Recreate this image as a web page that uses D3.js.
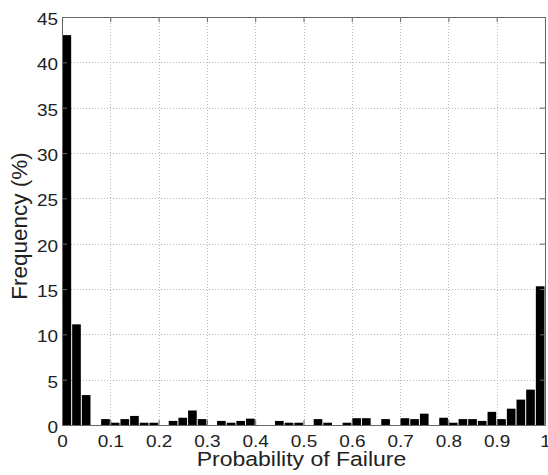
<!DOCTYPE html>
<html>
<head>
<meta charset="utf-8">
<script src="https://cdn.jsdelivr.net/npm/d3@7"></script>
<style>
  html, body { margin: 0; padding: 0; background: #fff; }
  svg text { font-family: Arial, "Liberation Sans", Helvetica, sans-serif; fill: #222; }
</style>
</head>
<body>
<svg id="chart" width="548" height="475"></svg>
<script>
// ---- data ----
const binStarts = d3.range(0, 50).map(i => i / 50);   // bin left edges (width 0.02)
const binWidth = 0.02;
const frequency = [43.0, 11.1, 3.3, 0, 0.65, 0.25, 0.65, 1.0, 0.25, 0.25,
                   0, 0.45, 0.8, 1.6, 0.65, 0, 0.45, 0.25, 0.45, 0.7,
                   0, 0, 0.45, 0.25, 0.25, 0, 0.65, 0.25, 0, 0.25,
                   0.75, 0.75, 0, 0.65, 0, 0.75, 0.65, 1.25, 0, 0.8,
                   0.25, 0.65, 0.65, 0.45, 1.45, 0.65, 1.8, 2.8, 3.9, 15.3];
const xTicks = [0, 0.1, 0.2, 0.3, 0.4, 0.5, 0.6, 0.7, 0.8, 0.9, 1];
const xTickLabels = ["0", "0.1", "0.2", "0.3", "0.4", "0.5", "0.6", "0.7", "0.8", "0.9", "1"];
const yTicks = [0, 5, 10, 15, 20, 25, 30, 35, 40, 45];
const xLabel = "Probability of Failure";
const yLabel = "Frequency (%)";

// ---- layout ----
const L = 62, R = 545, T = 17, B = 425;
const svg = d3.select("#chart");
const x = d3.scaleLinear().domain([0, 1]).range([L, R]);
const y = d3.scaleLinear().domain([0, 45]).range([B, T]);

// grid
const grid = svg.append("g").attr("stroke", "#b8b8b8").attr("stroke-width", 1).attr("stroke-dasharray", "1,2");
grid.selectAll("line.gx").data(xTicks.slice(1, -1)).enter().append("line")
  .attr("x1", d => Math.round(x(d)) + 0.5).attr("x2", d => Math.round(x(d)) + 0.5)
  .attr("y1", T).attr("y2", B);
grid.selectAll("line.gy").data(yTicks.slice(1, -1)).enter().append("line")
  .attr("y1", d => Math.round(y(d)) + 0.5).attr("y2", d => Math.round(y(d)) + 0.5)
  .attr("x1", L).attr("x2", R);

// bars
svg.append("g").selectAll("rect").data(frequency).enter().append("rect")
  .attr("x", (d, i) => x(binStarts[i]) + 0.5)
  .attr("width", x(binWidth) - x(0) - 1)
  .attr("y", d => y(d))
  .attr("height", d => y(0) - y(d))
  .attr("fill", "#000");

// axes (ticks inward on all four sides)
const axColor = "#666";
const tickLen = 5;
function styleAxis(g) {
  g.select(".domain").attr("stroke", axColor);
  g.selectAll(".tick line").attr("stroke", axColor);
  g.selectAll(".tick text").attr("font-size", 16.5).style("font-family", "Arial, 'Liberation Sans', sans-serif").attr("fill", "#222");
}
const xAxis = svg.append("g").attr("transform", `translate(0,${B})`)
  .call(d3.axisBottom(x).tickValues(xTicks).tickFormat((d, i) => xTickLabels[i]).tickSizeInner(-tickLen).tickSizeOuter(0).tickPadding(0));
styleAxis(xAxis);
xAxis.selectAll(".tick text").attr("y", 0).attr("dy", 0)
  .attr("transform", "translate(0,22) scale(1.15,1)");

const xAxisTop = svg.append("g").attr("transform", `translate(0,${T})`)
  .call(d3.axisTop(x).tickValues(xTicks).tickFormat("").tickSizeInner(-tickLen).tickSizeOuter(0));
styleAxis(xAxisTop);

const yAxis = svg.append("g").attr("transform", `translate(${L},0)`)
  .call(d3.axisLeft(y).tickValues(yTicks).tickFormat(d3.format("d")).tickSizeInner(-tickLen).tickSizeOuter(0).tickPadding(0));
styleAxis(yAxis);
yAxis.selectAll(".tick text").attr("x", 0).attr("dy", 0)
  .attr("transform", "translate(-4,7.5) scale(1.15,1)");

const yAxisRight = svg.append("g").attr("transform", `translate(${R},0)`)
  .call(d3.axisRight(y).tickValues(yTicks).tickFormat("").tickSizeInner(-tickLen).tickSizeOuter(0));
styleAxis(yAxisRight);

// axis labels
svg.append("text")
  .attr("transform", `translate(301.5,466) scale(1.18,1)`)
  .attr("text-anchor", "middle").attr("font-size", 19.5)
  .text(xLabel);
svg.append("text")
  .attr("transform", `translate(27,226) rotate(-90)`)
  .attr("text-anchor", "middle").attr("font-size", 22.5)
  .text(yLabel);
</script>
</body>
</html>
